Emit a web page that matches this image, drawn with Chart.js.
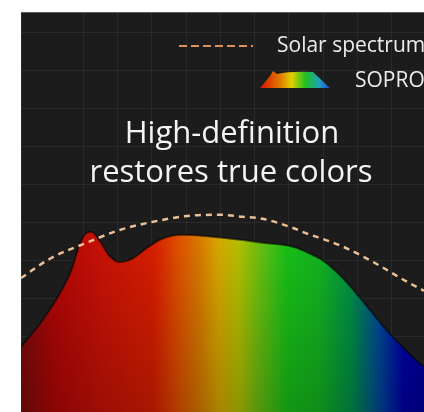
<!DOCTYPE html>
<html>
<head>
<meta charset="utf-8">
<script src="https://cdn.jsdelivr.net/npm/chart.js@4.4.1/dist/chart.umd.min.js"></script>
<style>
  html,body{margin:0;padding:0;background:#ffffff;}
  #wrap{width:424px;height:412px;overflow:hidden;position:relative;}
</style>
</head>
<body>
<div id="wrap"><canvas id="c" width="424" height="412"></canvas></div>
<script>
// ---- data (wavelength in nm, relative intensity) ----
const soproNm     = [380, 400, 420, 430, 438, 445, 450, 458, 468, 478, 490, 505, 520, 540, 570, 600, 620, 650, 665, 680, 700, 720, 740, 770, 780];
const soproValues = [16.3,22.5,30.3,35.5,41.8,44.8,45.0,42.8,39.0,37.5,38.3,41.0,43.3,44.3,43.8,43.0,42.3,41.3,39.8,37.8,33.3,27.5,21.3,13.5,11.3];
const solarNm     = [380, 410, 445, 478, 510, 545, 578, 600, 620, 650, 665, 685, 700, 720, 740, 760, 780];
const solarValues = [33.5,38.5,42.3,45.5,47.5,49.0,49.3,48.8,48.3,46.0,44.5,42.8,41.3,38.8,36.0,33.0,30.3];
const titleLines  = ["High-definition", "restores true colors"];
const legendLabels = ["Solar spectrum", "SOPRO"];

const toPts = (xs, ys) => xs.map((x, i) => ({x: x, y: ys[i]}));

function spectrumGradient(ctx, area){
  const g = ctx.createLinearGradient(area.left, 0, area.right, 0);
  const stops = [
    [0.00,'#7a0c0c'],[0.08,'#b00606'],[0.20,'#c81206'],[0.33,'#d81e00'],
    [0.39,'#e05000'],[0.44,'#d87800'],[0.49,'#d8a800'],[0.54,'#b4c000'],
    [0.59,'#6cc010'],[0.66,'#18c018'],[0.74,'#14b420'],[0.82,'#009048'],
    [0.89,'#00489a'],[0.95,'#0000a8'],[1.00,'#00009a']
  ];
  stops.forEach(s => g.addColorStop(s[0], s[1]));
  return g;
}

const panelPlugin = {
  id: 'panel',
  beforeDraw(chart){
    const {ctx, chartArea: a} = chart;
    ctx.save();
    ctx.fillStyle = '#1c1c1c';
    ctx.fillRect(a.left, a.top, a.right - a.left, a.bottom - a.top);
    ctx.strokeStyle = 'rgba(120,120,120,0.6)';
    ctx.lineWidth = 1;
    ctx.beginPath();
    ctx.moveTo(a.left, a.top + 0.5); ctx.lineTo(a.right, a.top + 0.5);
    ctx.stroke();
    ctx.restore();
  },
  afterDraw(chart){
    const {ctx} = chart;
    ctx.save();
    // title
    ctx.fillStyle = '#f4f4f4';
    ctx.font = '31px "Open Sans"';
    ctx.textAlign = 'center';
    ctx.textBaseline = 'alphabetic';
    ctx.fillText(titleLines[0], 232, 143);
    ctx.fillText(titleLines[1], 231, 182);
    // legend: dashed sample
    ctx.strokeStyle = '#e0905a';
    ctx.lineWidth = 2;
    ctx.setLineDash([8, 4]);
    ctx.beginPath();
    ctx.moveTo(179, 46); ctx.lineTo(253, 46);
    ctx.stroke();
    ctx.setLineDash([]);
    // legend: rainbow mound icon
    const g = ctx.createLinearGradient(260, 0, 330, 0);
    g.addColorStop(0, '#d81000'); g.addColorStop(0.3, '#e08000');
    g.addColorStop(0.45, '#e0d000'); g.addColorStop(0.65, '#20c020');
    g.addColorStop(0.85, '#20a0c0'); g.addColorStop(1, '#2040c0');
    ctx.fillStyle = g;
    ctx.beginPath();
    ctx.moveTo(260, 88);
    ctx.lineTo(270, 76);
    ctx.lineTo(273, 71);
    ctx.lineTo(277, 74);
    ctx.quadraticCurveTo(290, 71, 313, 72);
    ctx.lineTo(330, 88);
    ctx.closePath();
    ctx.fill();
    // legend texts
    ctx.fillStyle = '#ececec';
    ctx.font = '21px "Open Sans"';
    ctx.textAlign = 'left';
    ctx.fillText(legendLabels[0], 277, 52);
    ctx.fillText(legendLabels[1], 355, 87);
    ctx.restore();
  }
};

new Chart(document.getElementById('c'), {
  type: 'line',
  data: {
    datasets: [
      {
        label: legendLabels[0],
        data: toPts(solarNm, solarValues),
        borderColor: '#eac096',
        borderWidth: 2.5,
        borderDash: [6, 5],
        pointRadius: 0,
        fill: false,
        tension: 0.4,
        cubicInterpolationMode: 'monotone',
        order: 0
      },
      {
        label: 'shade',
        data: toPts(soproNm, soproValues),
        borderWidth: 0,
        borderColor: 'rgba(0,0,0,0)',
        pointRadius: 0,
        fill: 'origin',
        cubicInterpolationMode: 'monotone',
        backgroundColor: (c) => {
          const a = c.chart.chartArea;
          if (!a) return 'rgba(0,0,0,0)';
          const g = c.chart.ctx.createLinearGradient(0, 230, 0, a.bottom);
          g.addColorStop(0, 'rgba(0,0,0,0)');
          g.addColorStop(1, 'rgba(0,0,0,0.22)');
          return g;
        },
        order: 1
      },
      {
        label: legendLabels[1],
        data: toPts(soproNm, soproValues),
        borderColor: 'rgba(0,0,0,0.55)',
        borderWidth: 2,
        pointRadius: 0,
        fill: 'origin',
        cubicInterpolationMode: 'monotone',
        backgroundColor: (c) => {
          const a = c.chart.chartArea;
          if (!a) return '#c00000';
          return spectrumGradient(c.chart.ctx, a);
        },
        order: 2
      }
    ]
  },
  options: {
    responsive: false,
    animation: false,
    devicePixelRatio: 1,
    layout: { padding: { left: 21, top: 12, right: 0, bottom: 0 } },
    plugins: { legend: { display: false }, tooltip: { enabled: false }, title: { display: false } },
    scales: {
      x: {
        type: 'linear', min: 380, max: 780,
        ticks: { display: false, stepSize: 34 },
        grid: { color: 'rgba(255,255,255,0.06)', drawTicks: false },
        border: { display: false }
      },
      y: {
        min: 0, max: 100,
        ticks: { display: false, stepSize: 9.5 },
        grid: { color: 'rgba(255,255,255,0.06)', drawTicks: false },
        border: { display: false }
      }
    }
  },
  plugins: [panelPlugin]
});
</script>
</body>
</html>
